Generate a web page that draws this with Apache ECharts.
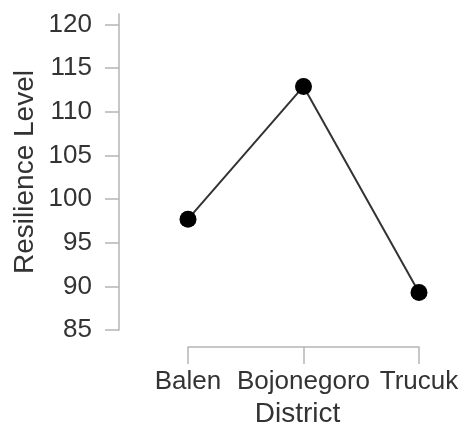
<!DOCTYPE html>
<html>
<head>
<meta charset="utf-8">
<script src="https://cdn.jsdelivr.net/npm/echarts@6/dist/echarts.min.js"></script>
<style>
html, body { margin: 0; padding: 0; background: #fff; }
#chart { width: 468px; height: 430px; }
</style>
</head>
<body>
<div id="chart"></div>
<script>
var districts = ['Balen', 'Bojonegoro', 'Trucuk'];
var resilience = [97.7, 112.9, 89.3];
var yTicks = [85, 90, 95, 100, 105, 110, 115, 120];

var font = 'Liberation Sans, Arial, sans-serif';
var chart = echarts.init(document.getElementById('chart'));
var option = {
	backgroundColor: '#fff',
	animation: false,
	grid: {
		left: 188,
		right: 49,
		top: 14,
		bottom: 100,
		outerBoundsMode: 'none'
	},
	xAxis: {
		type: 'category',
		data: districts,
		boundaryGap: false,
		offset: 17,
		name: 'District',
		nameLocation: 'middle',
		nameGap: 52,
		nameTextStyle: {
			fontFamily: font,
			fontSize: 28,
			color: '#333',
			padding: [0, 12, 0, 0]
		},
		axisLine: {
			lineStyle: { color: '#b5b5b5', width: 1.5 }
		},
		axisTick: {
			alignWithLabel: true,
			length: 17,
			lineStyle: { color: '#b5b5b5', width: 1.5 }
		},
		axisLabel: {
			fontFamily: font,
			fontSize: 26,
			color: '#333',
			margin: 22,
			interval: 0
		},
		splitLine: { show: false }
	},
	yAxis: {
		type: 'value',
		min: 85,
		max: 121.2,
		offset: 69,
		name: 'Resilience Level',
		nameLocation: 'middle',
		nameGap: 80,
		nameTextStyle: {
			fontFamily: font,
			fontSize: 28,
			color: '#333'
		},
		axisLine: {
			show: true,
			lineStyle: { color: '#b5b5b5', width: 1.5 }
		},
		axisTick: {
			show: true,
			length: 14,
			customValues: yTicks,
			lineStyle: { color: '#b5b5b5', width: 1.5 }
		},
		axisLabel: {
			fontFamily: font,
			fontSize: 26,
			color: '#333',
			margin: 27,
			customValues: yTicks
		},
		splitLine: { show: false }
	},
	series: [{
		type: 'line',
		data: resilience,
		symbol: 'circle',
		symbolSize: 17,
		itemStyle: { color: '#000' },
		lineStyle: { color: '#333', width: 2 }
	}]
};
chart.setOption(option);
</script>
</body>
</html>
